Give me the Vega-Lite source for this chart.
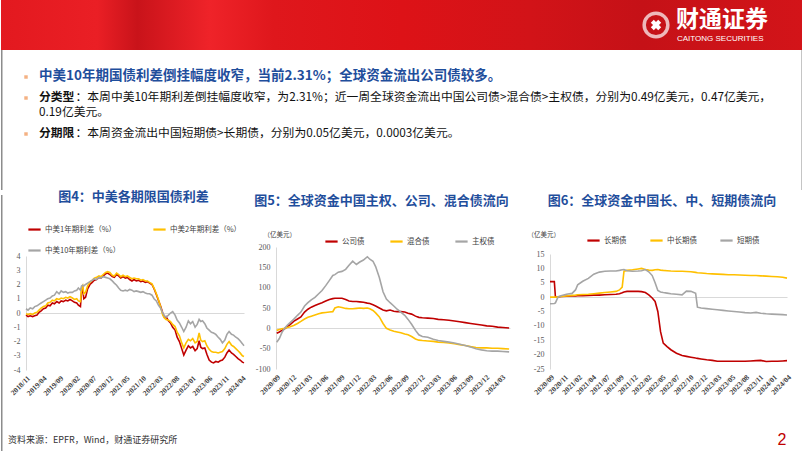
{
  "$schema": "https://vega.github.io/schema/vega-lite/v6.json",
  "background": "white",
  "padding": 0,
  "spacing": 0,
  "config": {"view": {"stroke": null}, "concat": {"spacing": 0}, "font": "Noto Sans CJK SC", "axis": {"labelOverlap": false}},
  "resolve": {"scale": {"color": "independent", "x": "independent", "y": "independent"}, "legend": {"color": "independent"}},
  "vconcat": [
    {
      "width": 802, "height": 190,
      "layer": [
        {"data": {"values": [{"k": 1}]},
         "mark": {"type": "rect", "fill": {"gradient": "linear", "x1": 0, "y1": 0, "x2": 1, "y2": 0,
           "stops": [{"offset": 0, "color": "#e3191f"}, {"offset": 0.12, "color": "#ea1f25"}, {"offset": 0.17, "color": "#c9131a"}, {"offset": 0.26, "color": "#ef2329"}, {"offset": 0.34, "color": "#df171c"}, {"offset": 0.5, "color": "#dd1217"}, {"offset": 0.66, "color": "#d21318"}, {"offset": 0.8, "color": "#c51117"}, {"offset": 1, "color": "#d31419"}]}},
         "encoding": {"x": {"value": 0}, "x2": {"value": "width"}, "y": {"value": 0}, "y2": {"value": 50}}},
        {"data": {"values": [{"k": 1}]}, "mark": {"type": "rule", "color": "#8c8c8c", "strokeWidth": 1.5},
         "encoding": {"x": {"value": 0.75}, "y": {"value": 50}, "y2": {"value": "height"}}},
        {"data": {"values": [{"k": 1}]}, "mark": {"type": "rule", "color": "#8c8c8c", "strokeWidth": 1.5},
         "encoding": {"x": {"value": 801.25}, "y": {"value": 50}, "y2": {"value": "height"}}},
        {"data": {"values": [{"k": 1}]}, "mark": {"type": "point", "shape": "circle", "filled": false, "stroke": "white", "strokeWidth": 3.5, "size": 560},
         "encoding": {"x": {"value": 655}, "y": {"value": 25}}},
        {"data": {"values": [{"k": 1}]}, "mark": {"type": "point", "shape": "cross", "filled": true, "fill": "white", "angle": 45, "size": 110, "opacity": 1},
         "encoding": {"x": {"value": 655}, "y": {"value": 25}}},
        {"data": {"values": [{"t": "财通证券"}]}, "mark": {"type": "text", "align": "left", "baseline": "middle", "font": "Noto Sans CJK SC", "fontSize": 23, "fontWeight": "bold", "color": "white"},
         "encoding": {"text": {"field": "t"}, "x": {"value": 675}, "y": {"value": 20}}},
        {"data": {"values": [{"t": "CAITONG SECURITIES"}]}, "mark": {"type": "text", "align": "left", "baseline": "middle", "font": "Liberation Sans", "fontSize": 8, "color": "white"},
         "encoding": {"text": {"field": "t"}, "x": {"value": 676}, "y": {"value": 38.5}}},
        {"data": {"values": [{"k": 1}]}, "mark": {"type": "point", "shape": "square", "filled": true, "color": "#f4b183", "size": 12, "opacity": 1},
         "encoding": {"x": {"value": 25}, "y": {"value": 77}}},
        {"data": {"values": [{"k": 1}]}, "mark": {"type": "point", "shape": "square", "filled": true, "color": "#f4b183", "size": 12, "opacity": 1},
         "encoding": {"x": {"value": 25}, "y": {"value": 98}}},
        {"data": {"values": [{"k": 1}]}, "mark": {"type": "point", "shape": "square", "filled": true, "color": "#f4b183", "size": 12, "opacity": 1},
         "encoding": {"x": {"value": 25}, "y": {"value": 134}}},
        {"data": {"values": [{"t": "中美10年期国债利差倒挂幅度收窄，当前2.31%；全球资金流出公司债较多。"}]}, "mark": {"type": "text", "align": "left", "baseline": "middle", "font": "Noto Sans CJK SC", "fontSize": 13.5, "fontWeight": "bold", "color": "#1f4e9c"},
         "encoding": {"text": {"field": "t"}, "x": {"value": 38}, "y": {"value": 76}}},
        {"data": {"values": [{"t": "分类型"}]}, "mark": {"type": "text", "align": "left", "baseline": "middle", "font": "Noto Sans CJK SC", "fontSize": 11.8, "fontWeight": "bold", "color": "#111111"},
         "encoding": {"text": {"field": "t"}, "x": {"value": 38}, "y": {"value": 97}}},
        {"data": {"values": [{"t": "：本周中美10年期利差倒挂幅度收窄，为2.31%；近一周全球资金流出中国公司债>混合债>主权债，分别为0.49亿美元，0.47亿美元，"}]}, "mark": {"type": "text", "align": "left", "baseline": "middle", "font": "Noto Sans CJK SC", "fontSize": 11.8, "color": "#111111"},
         "encoding": {"text": {"field": "t"}, "x": {"value": 74.5}, "y": {"value": 97}}},
        {"data": {"values": [{"t": "0.19亿美元。"}]}, "mark": {"type": "text", "align": "left", "baseline": "middle", "font": "Noto Sans CJK SC", "fontSize": 11.8, "color": "#111111"},
         "encoding": {"text": {"field": "t"}, "x": {"value": 38}, "y": {"value": 112}}},
        {"data": {"values": [{"t": "分期限"}]}, "mark": {"type": "text", "align": "left", "baseline": "middle", "font": "Noto Sans CJK SC", "fontSize": 11.8, "fontWeight": "bold", "color": "#111111"},
         "encoding": {"text": {"field": "t"}, "x": {"value": 38}, "y": {"value": 133}}},
        {"data": {"values": [{"t": "：本周资金流出中国短期债>长期债，分别为0.05亿美元，0.0003亿美元。"}]}, "mark": {"type": "text", "align": "left", "baseline": "middle", "font": "Noto Sans CJK SC", "fontSize": 11.8, "color": "#111111"},
         "encoding": {"text": {"field": "t"}, "x": {"value": 74.5}, "y": {"value": 133}}}
      ]
    },
    {
      "spacing": 0,
      "resolve": {"scale": {"color": "independent", "x": "independent", "y": "independent"}, "legend": {"color": "independent"}},
      "hconcat": [
        {"width": 7, "height": 10, "data": {"values": [{"k": 1}]}, "mark": {"type": "rule", "color": "#8c8c8c", "strokeWidth": 1.5},
         "encoding": {"x": {"value": 0.75}, "y": {"value": -52}, "y2": {"value": 206}}},
        {
          "width": 218, "height": 123,
          "title": {"text": "图4：中美各期限国债利差", "font": "Noto Sans CJK SC", "fontSize": 13, "fontWeight": "bold", "color": "#1f4e9c", "anchor": "middle", "frame": "group", "dx": -1.5, "offset": 18},
          "layer": [
            {"data": {"values": [
              {"d": "2018-11-01", "a": -0.15, "b": -0.05, "c": 0.30},
              {"d": "2018-11-20", "a": -0.25, "b": -0.10, "c": 0.20},
              {"d": "2018-12-10", "a": -0.20, "b": -0.05, "c": 0.35},
              {"d": "2019-01-01", "a": -0.25, "b": -0.10, "c": 0.30},
              {"d": "2019-01-20", "a": -0.20, "b": 0.00, "c": 0.45},
              {"d": "2019-02-10", "a": -0.15, "b": 0.05, "c": 0.50},
              {"d": "2019-03-01", "a": 0.05, "b": 0.20, "c": 0.60},
              {"d": "2019-03-20", "a": 0.15, "b": 0.35, "c": 0.70},
              {"d": "2019-04-10", "a": 0.30, "b": 0.45, "c": 0.80},
              {"d": "2019-05-01", "a": 0.35, "b": 0.50, "c": 0.90},
              {"d": "2019-05-20", "a": 0.55, "b": 0.70, "c": 1.00},
              {"d": "2019-06-10", "a": 0.50, "b": 0.75, "c": 1.05},
              {"d": "2019-07-01", "a": 0.70, "b": 0.90, "c": 1.20},
              {"d": "2019-07-20", "a": 0.65, "b": 0.85, "c": 1.25},
              {"d": "2019-08-10", "a": 0.80, "b": 1.00, "c": 1.50},
              {"d": "2019-09-01", "a": 0.70, "b": 0.95, "c": 1.35},
              {"d": "2019-09-20", "a": 0.85, "b": 1.05, "c": 1.55},
              {"d": "2019-10-10", "a": 0.80, "b": 1.00, "c": 1.45},
              {"d": "2019-11-01", "a": 0.90, "b": 1.10, "c": 1.50},
              {"d": "2019-11-20", "a": 0.85, "b": 1.05, "c": 1.40},
              {"d": "2019-12-10", "a": 0.95, "b": 1.15, "c": 1.45},
              {"d": "2020-01-01", "a": 0.85, "b": 1.05, "c": 1.45},
              {"d": "2020-01-20", "a": 0.75, "b": 0.95, "c": 1.55},
              {"d": "2020-02-10", "a": 0.70, "b": 1.00, "c": 1.60},
              {"d": "2020-02-25", "a": 0.55, "b": 0.85, "c": 1.75},
              {"d": "2020-03-15", "a": 0.45, "b": 0.80, "c": 1.60},
              {"d": "2020-03-25", "a": 1.50, "b": 1.70, "c": 1.90},
              {"d": "2020-04-05", "a": 1.70, "b": 1.90, "c": 1.95},
              {"d": "2020-04-15", "a": 1.00, "b": 1.35, "c": 1.90},
              {"d": "2020-05-01", "a": 1.10, "b": 1.45, "c": 2.00},
              {"d": "2020-05-20", "a": 1.70, "b": 1.90, "c": 2.10},
              {"d": "2020-06-10", "a": 2.00, "b": 2.15, "c": 2.20},
              {"d": "2020-07-01", "a": 2.15, "b": 2.30, "c": 2.30},
              {"d": "2020-07-20", "a": 2.30, "b": 2.45, "c": 2.40},
              {"d": "2020-08-10", "a": 2.35, "b": 2.50, "c": 2.35},
              {"d": "2020-09-01", "a": 2.50, "b": 2.60, "c": 2.50},
              {"d": "2020-09-20", "a": 2.45, "b": 2.55, "c": 2.45},
              {"d": "2020-10-10", "a": 2.60, "b": 2.70, "c": 2.55},
              {"d": "2020-11-01", "a": 2.75, "b": 2.85, "c": 2.50},
              {"d": "2020-11-20", "a": 2.80, "b": 2.90, "c": 2.45},
              {"d": "2020-12-10", "a": 2.70, "b": 2.85, "c": 2.40},
              {"d": "2021-01-01", "a": 2.55, "b": 2.65, "c": 2.25},
              {"d": "2021-01-20", "a": 2.50, "b": 2.60, "c": 2.10},
              {"d": "2021-02-10", "a": 2.70, "b": 2.80, "c": 1.95},
              {"d": "2021-03-01", "a": 2.60, "b": 2.70, "c": 1.75},
              {"d": "2021-03-20", "a": 2.45, "b": 2.55, "c": 1.60},
              {"d": "2021-04-10", "a": 2.55, "b": 2.65, "c": 1.55},
              {"d": "2021-05-01", "a": 2.45, "b": 2.55, "c": 1.60},
              {"d": "2021-05-20", "a": 2.50, "b": 2.60, "c": 1.55},
              {"d": "2021-06-10", "a": 2.35, "b": 2.50, "c": 1.65},
              {"d": "2021-07-01", "a": 2.25, "b": 2.40, "c": 1.60},
              {"d": "2021-07-20", "a": 2.35, "b": 2.45, "c": 1.50},
              {"d": "2021-08-10", "a": 2.25, "b": 2.40, "c": 1.55},
              {"d": "2021-09-01", "a": 2.30, "b": 2.40, "c": 1.50},
              {"d": "2021-09-20", "a": 2.20, "b": 2.30, "c": 1.45},
              {"d": "2021-10-10", "a": 2.25, "b": 2.35, "c": 1.50},
              {"d": "2021-11-01", "a": 2.15, "b": 2.25, "c": 1.40},
              {"d": "2021-11-20", "a": 2.20, "b": 2.25, "c": 1.35},
              {"d": "2021-12-10", "a": 2.10, "b": 2.15, "c": 1.35},
              {"d": "2022-01-01", "a": 2.00, "b": 2.05, "c": 1.25},
              {"d": "2022-01-20", "a": 1.70, "b": 1.75, "c": 1.00},
              {"d": "2022-02-10", "a": 1.30, "b": 1.35, "c": 0.85},
              {"d": "2022-03-01", "a": 0.90, "b": 0.95, "c": 0.55},
              {"d": "2022-03-20", "a": 0.50, "b": 0.45, "c": 0.35},
              {"d": "2022-04-10", "a": 0.00, "b": -0.15, "c": 0.00},
              {"d": "2022-04-25", "a": -0.30, "b": -0.35, "c": -0.20},
              {"d": "2022-05-10", "a": -0.25, "b": -0.45, "c": -0.30},
              {"d": "2022-06-01", "a": -0.55, "b": -0.50, "c": -0.15},
              {"d": "2022-06-20", "a": -0.70, "b": -0.60, "c": 0.00},
              {"d": "2022-07-10", "a": -1.00, "b": -0.80, "c": 0.10},
              {"d": "2022-08-01", "a": -1.20, "b": -0.95, "c": -0.15},
              {"d": "2022-08-20", "a": -1.70, "b": -1.35, "c": -0.50},
              {"d": "2022-09-10", "a": -2.00, "b": -1.60, "c": -0.70},
              {"d": "2022-10-01", "a": -2.50, "b": -2.10, "c": -1.00},
              {"d": "2022-10-20", "a": -2.95, "b": -2.45, "c": -1.30},
              {"d": "2022-11-10", "a": -2.60, "b": -2.10, "c": -1.00},
              {"d": "2022-12-01", "a": -2.30, "b": -1.85, "c": -0.55},
              {"d": "2022-12-20", "a": -2.45, "b": -1.95, "c": -0.75},
              {"d": "2023-01-10", "a": -2.35, "b": -1.80, "c": -0.60},
              {"d": "2023-02-01", "a": -2.65, "b": -2.10, "c": -1.00},
              {"d": "2023-02-20", "a": -2.50, "b": -2.00, "c": -0.80},
              {"d": "2023-03-10", "a": -1.95, "b": -1.40, "c": -0.45},
              {"d": "2023-03-25", "a": -2.40, "b": -1.90, "c": -0.60},
              {"d": "2023-04-10", "a": -2.50, "b": -2.00, "c": -0.55},
              {"d": "2023-05-01", "a": -2.45, "b": -1.95, "c": -0.75},
              {"d": "2023-05-20", "a": -2.90, "b": -2.30, "c": -1.05},
              {"d": "2023-06-10", "a": -3.30, "b": -2.55, "c": -1.20},
              {"d": "2023-07-01", "a": -3.45, "b": -2.70, "c": -1.35},
              {"d": "2023-07-20", "a": -3.50, "b": -2.75, "c": -1.40},
              {"d": "2023-08-10", "a": -3.40, "b": -2.75, "c": -1.50},
              {"d": "2023-09-01", "a": -3.45, "b": -2.80, "c": -1.70},
              {"d": "2023-09-20", "a": -3.35, "b": -2.75, "c": -1.85},
              {"d": "2023-10-10", "a": -3.30, "b": -2.70, "c": -2.10},
              {"d": "2023-11-01", "a": -3.10, "b": -2.50, "c": -1.90},
              {"d": "2023-11-20", "a": -2.80, "b": -2.20, "c": -1.50},
              {"d": "2023-12-10", "a": -2.60, "b": -2.00, "c": -1.30},
              {"d": "2024-01-01", "a": -2.80, "b": -2.25, "c": -1.50},
              {"d": "2024-01-20", "a": -2.90, "b": -2.35, "c": -1.55},
              {"d": "2024-02-10", "a": -3.05, "b": -2.50, "c": -1.70},
              {"d": "2024-03-01", "a": -3.20, "b": -2.65, "c": -1.80},
              {"d": "2024-03-20", "a": -3.30, "b": -2.80, "c": -1.95},
              {"d": "2024-04-10", "a": -3.45, "b": -3.00, "c": -2.15},
              {"d": "2024-04-25", "a": -3.50, "b": -3.05, "c": -2.30}
            ]},
             "transform": [{"fold": ["a", "b", "c"], "as": ["k", "v"]}],
             "mark": {"type": "line", "strokeWidth": 1.6},
             "encoding": {
               "x": {"field": "d", "type": "temporal",
                 "scale": {"domain": [{"year": 2018, "month": 11, "date": 1}, {"year": 2024, "month": 4, "date": 25}]},
                 "axis": {"title": null, "format": "%Y/%m", "labelAngle": -45, "domain": false, "ticks": false, "grid": false, "labelFont": "Liberation Serif", "labelFontSize": 7.5, "labelFontWeight": "bold", "labelColor": "#404040", "labelPadding": 4, "labelOverlap": false, "labelFlush": false,
                   "values": [{"year": 2018, "month": 11, "date": 1}, {"year": 2019, "month": 4, "date": 1}, {"year": 2019, "month": 9, "date": 1}, {"year": 2020, "month": 2, "date": 1}, {"year": 2020, "month": 7, "date": 1}, {"year": 2020, "month": 12, "date": 1}, {"year": 2021, "month": 5, "date": 1}, {"year": 2021, "month": 10, "date": 1}, {"year": 2022, "month": 3, "date": 1}, {"year": 2022, "month": 8, "date": 1}, {"year": 2023, "month": 1, "date": 1}, {"year": 2023, "month": 6, "date": 1}, {"year": 2023, "month": 11, "date": 1}, {"year": 2024, "month": 4, "date": 1}]}},
               "y": {"field": "v", "type": "quantitative", "scale": {"domain": [-4, 4], "nice": false, "range": [123, 9]},
                 "axis": {"title": null, "values": [-4, -3, -2, -1, 0, 1, 2, 3, 4], "domain": true, "domainColor": "#d9d9d9", "ticks": false, "tickSize": 0,
                   "grid": true, "gridColor": "#d9d9d9", "gridWidth": 1, "gridOpacity": {"condition": {"test": "datum.value === 0", "value": 1}, "value": 0},
                   "labelFont": "Liberation Serif", "labelFontSize": 8, "labelColor": "#595959", "labelPadding": 6, "labelOverlap": false, "labelBound": false, "labelExpr": "'' + datum.value"}},
               "color": {"field": "k", "type": "nominal", "scale": {"domain": ["a", "b", "c"], "range": ["#c00000", "#ffc000", "#a5a5a5"]},
                 "legend": {"title": null, "orient": "none", "legendX": 1, "legendY": -25, "direction": "horizontal", "columns": 2, "columnPadding": 27, "rowPadding": 9, "symbolType": "stroke", "symbolSize": 150, "symbolStrokeWidth": 2.2, "labelFont": "Noto Sans CJK SC", "labelFontSize": 7.5, "labelColor": "#404040", "labelOffset": 3, "padding": 0,
                   "labelExpr": "datum.label == 'a' ? '中美1年期利差（%）' : datum.label == 'b' ? '中美2年期利差（%）' : '中美10年期利差（%）'"}}
             }},
            {"data": {"values": [{"t": "资料来源：EPFR，Wind，财通证券研究所"}]}, "mark": {"type": "text", "align": "left", "baseline": "middle", "font": "Noto Sans CJK SC", "fontSize": 9, "color": "#333333"},
             "encoding": {"text": {"field": "t"}, "x": {"value": -18}, "y": {"value": 193}}}
          ]
        },
        {"width": 2, "height": 10, "data": {"values": [{"k": 1}]}, "mark": {"type": "point", "opacity": 0}, "encoding": {}},
        {
          "width": 234, "height": 122,
          "title": {"text": "图5：全球资金中国主权、公司、混合债流向", "font": "Noto Sans CJK SC", "fontSize": 13, "fontWeight": "bold", "color": "#1f4e9c", "anchor": "middle", "frame": "group", "dx": -11.5, "offset": 23},
          "data": {"values": [
              {"d": "2020-09-05", "公司债": -12, "混合债": -5, "主权债": -34},
              {"d": "2020-09-20", "公司债": -9, "混合债": -3, "主权债": -25},
              {"d": "2020-10-05", "公司债": -5, "混合债": -1, "主权债": -10},
              {"d": "2020-10-20", "公司债": -1, "混合债": 0, "主权债": 0},
              {"d": "2020-11-05", "公司债": 4, "混合债": 2, "主权债": 8},
              {"d": "2020-11-20", "公司债": 9, "混合债": 4, "主权债": 14},
              {"d": "2020-12-10", "公司债": 17, "混合债": 7, "主权债": 22},
              {"d": "2021-01-01", "公司债": 23, "混合债": 12, "主权债": 32},
              {"d": "2021-01-20", "公司债": 28, "混合债": 17, "主权债": 40},
              {"d": "2021-02-10", "公司债": 40, "混合债": 23, "主权债": 55},
              {"d": "2021-03-01", "公司债": 47, "混合债": 27, "主权债": 63},
              {"d": "2021-03-20", "公司债": 52, "混合债": 30, "主权债": 70},
              {"d": "2021-04-10", "公司债": 56, "混合债": 33, "主权债": 76},
              {"d": "2021-05-01", "公司债": 60, "混合债": 36, "主权债": 85},
              {"d": "2021-05-20", "公司债": 63, "混合债": 38, "主权债": 93},
              {"d": "2021-06-10", "公司债": 67, "混合债": 39, "主权债": 105},
              {"d": "2021-07-01", "公司债": 71, "混合债": 40, "主权债": 118},
              {"d": "2021-07-20", "公司债": 73, "混合债": 41, "主权债": 130},
              {"d": "2021-08-01", "公司债": 74, "混合债": 50, "主权债": 132},
              {"d": "2021-08-20", "公司债": 74, "混合债": 53, "主权债": 138},
              {"d": "2021-09-10", "公司债": 74, "混合债": 51, "主权债": 140},
              {"d": "2021-10-01", "公司债": 71, "混合债": 49, "主权债": 145},
              {"d": "2021-10-20", "公司债": 67, "混合债": 48, "主权债": 155},
              {"d": "2021-11-10", "公司债": 66, "混合债": 48, "主权债": 165},
              {"d": "2021-12-01", "公司债": 66, "混合债": 49, "主权债": 157},
              {"d": "2021-12-20", "公司债": 65, "混合债": 50, "主权债": 163},
              {"d": "2022-01-10", "公司债": 64, "混合债": 49, "主权债": 168},
              {"d": "2022-02-01", "公司债": 62, "混合债": 50, "主权债": 176},
              {"d": "2022-02-15", "公司债": 61, "混合债": 48, "主权债": 170},
              {"d": "2022-03-05", "公司债": 58, "混合债": 44, "主权债": 165},
              {"d": "2022-03-20", "公司债": 55, "混合债": 38, "主权债": 152},
              {"d": "2022-04-10", "公司债": 50, "混合债": 28, "主权债": 125},
              {"d": "2022-05-01", "公司债": 45, "混合债": 12, "主权债": 90},
              {"d": "2022-05-20", "公司债": 43, "混合债": 0, "主权债": 72},
              {"d": "2022-06-10", "公司债": 45, "混合债": -4, "主权债": 63},
              {"d": "2022-07-01", "公司债": 42, "混合债": -7, "主权债": 55},
              {"d": "2022-07-20", "公司债": 41, "混合债": -9, "主权债": 47},
              {"d": "2022-08-10", "公司债": 41, "混合债": -11, "主权债": 40},
              {"d": "2022-09-01", "公司债": 40, "混合债": -14, "主权债": 32},
              {"d": "2022-09-20", "公司债": 37, "混合债": -16, "主权债": 22},
              {"d": "2022-10-10", "公司债": 35, "混合债": -20, "主权债": 10},
              {"d": "2022-11-01", "公司债": 30, "混合债": -26, "主权债": -5},
              {"d": "2022-11-20", "公司债": 27, "混合债": -29, "主权债": -16},
              {"d": "2022-12-10", "公司债": 26, "混合债": -30, "主权债": -20},
              {"d": "2023-01-10", "公司债": 25, "混合债": -31, "主权债": -22},
              {"d": "2023-02-10", "公司债": 24, "混合债": -32, "主权债": -27},
              {"d": "2023-03-10", "公司债": 22, "混合债": -34, "主权债": -30},
              {"d": "2023-04-10", "公司债": 21, "混合债": -35, "主权债": -32},
              {"d": "2023-05-10", "公司债": 20, "混合债": -36, "主权债": -34},
              {"d": "2023-06-10", "公司债": 18, "混合债": -38, "主权债": -36},
              {"d": "2023-07-10", "公司债": 16, "混合债": -40, "主权债": -39},
              {"d": "2023-08-10", "公司债": 14, "混合债": -42, "主权债": -42},
              {"d": "2023-09-10", "公司债": 12, "混合债": -45, "主权债": -46},
              {"d": "2023-10-10", "公司债": 10, "混合债": -47, "主权债": -50},
              {"d": "2023-11-10", "公司债": 8, "混合债": -48, "主权债": -53},
              {"d": "2023-12-10", "公司债": 6, "混合债": -48, "主权债": -55},
              {"d": "2024-01-10", "公司债": 5, "混合债": -49, "主权债": -56},
              {"d": "2024-02-10", "公司债": 3, "混合债": -49, "主权债": -56},
              {"d": "2024-03-10", "公司债": 2, "混合债": -50, "主权债": -57},
              {"d": "2024-04-15", "公司债": 1, "混合债": -51, "主权债": -58}
          ]},
          "transform": [{"fold": ["公司债", "混合债", "主权债"], "as": ["k", "v"]}],
          "mark": {"type": "line", "strokeWidth": 1.6},
          "encoding": {
            "x": {"field": "d", "type": "temporal",
              "scale": {"domain": [{"year": 2020, "month": 9, "date": 1}, {"year": 2024, "month": 4, "date": 20}]},
              "axis": {"title": null, "format": "%Y/%m", "labelAngle": -45, "domain": false, "ticks": false, "grid": false, "labelFont": "Liberation Serif", "labelFontSize": 7.5, "labelFontWeight": "bold", "labelColor": "#404040", "labelPadding": 4, "labelOverlap": false, "labelFlush": false,
                "values": [{"year": 2020, "month": 9, "date": 1}, {"year": 2020, "month": 12, "date": 1}, {"year": 2021, "month": 3, "date": 1}, {"year": 2021, "month": 6, "date": 1}, {"year": 2021, "month": 9, "date": 1}, {"year": 2021, "month": 12, "date": 1}, {"year": 2022, "month": 3, "date": 1}, {"year": 2022, "month": 6, "date": 1}, {"year": 2022, "month": 9, "date": 1}, {"year": 2022, "month": 12, "date": 1}, {"year": 2023, "month": 3, "date": 1}, {"year": 2023, "month": 6, "date": 1}, {"year": 2023, "month": 9, "date": 1}, {"year": 2023, "month": 12, "date": 1}, {"year": 2024, "month": 3, "date": 1}]}},
            "y": {"field": "v", "type": "quantitative", "scale": {"domain": [-100, 200], "nice": false},
              "axis": {"title": "（亿美元）", "titleAngle": 0, "titleX": -13, "titleY": -13, "titleAlign": "left", "titleBaseline": "middle", "titleFont": "Noto Sans CJK SC", "titleFontSize": 6.5, "titleFontWeight": "normal", "titleColor": "#404040",
                "values": [-100, -50, 0, 50, 100, 150, 200], "domain": true, "domainColor": "#d9d9d9", "ticks": false, "tickSize": 0,
                "grid": true, "gridColor": "#d9d9d9", "gridWidth": 1, "gridOpacity": {"condition": {"test": "datum.value === 0", "value": 1}, "value": 0},
                "labelFont": "Liberation Serif", "labelFontSize": 8, "labelColor": "#595959", "labelPadding": 6, "labelOverlap": false, "labelBound": false, "labelExpr": "'' + datum.value"}},
            "color": {"field": "k", "type": "nominal", "scale": {"domain": ["公司债", "混合债", "主权债"], "range": ["#c00000", "#ffc000", "#a5a5a5"]},
              "legend": {"title": null, "orient": "none", "legendX": 48, "legendY": -13, "direction": "horizontal", "columnPadding": 20, "symbolType": "stroke", "symbolSize": 150, "symbolStrokeWidth": 2.2, "labelFont": "Noto Sans CJK SC", "labelFontSize": 7.5, "labelColor": "#404040", "labelOffset": 3, "padding": 0}}
          }
        },
        {"width": 14, "height": 10, "data": {"values": [{"k": 1}]}, "mark": {"type": "point", "opacity": 0}, "encoding": {}},
        {
          "width": 237, "height": 122,
          "title": {"text": "图6：全球资金中国长、中、短期债流向", "font": "Noto Sans CJK SC", "fontSize": 13, "fontWeight": "bold", "color": "#1f4e9c", "anchor": "middle", "frame": "group", "dx": -6.5, "offset": 23},
          "layer": [
            {"data": {"values": [
              {"d": "2020-09-01", "长期债": 5.4, "中长期债": 0.0, "短期债": -2.3},
              {"d": "2020-09-25", "长期债": 5.4, "中长期债": 0.0, "短期债": -2.2},
              {"d": "2020-10-01", "长期债": 0.0, "中长期债": 0.0, "短期债": -2.0},
              {"d": "2020-10-15", "长期债": 0.1, "中长期债": 0.1, "短期债": 0.0},
              {"d": "2020-11-01", "长期债": 0.2, "中长期债": 0.2, "短期债": 0.5},
              {"d": "2020-12-01", "长期债": 0.3, "中长期债": 0.4, "短期债": 1.0},
              {"d": "2021-01-01", "长期债": 0.4, "中长期债": 0.6, "短期债": 1.3},
              {"d": "2021-01-20", "长期债": 0.4, "中长期债": 0.7, "短期债": 2.5},
              {"d": "2021-02-01", "长期债": 0.5, "中长期债": 0.8, "短期债": 4.3},
              {"d": "2021-03-01", "长期债": 0.5, "中长期债": 0.9, "短期债": 5.5},
              {"d": "2021-04-01", "长期债": 0.6, "中长期债": 1.0, "短期债": 6.5},
              {"d": "2021-05-01", "长期债": 0.7, "中长期债": 1.2, "短期债": 8.0},
              {"d": "2021-06-01", "长期债": 0.7, "中长期债": 1.4, "短期债": 8.7},
              {"d": "2021-07-01", "长期债": 0.8, "中长期债": 1.6, "短期债": 9.0},
              {"d": "2021-08-01", "长期债": 0.9, "中长期债": 1.8, "短期债": 9.1},
              {"d": "2021-09-01", "长期债": 1.0, "中长期债": 2.0, "短期债": 9.1},
              {"d": "2021-09-20", "长期债": 1.2, "中长期债": 2.5, "短期债": 9.3},
              {"d": "2021-10-05", "长期债": 1.5, "中长期债": 3.5, "短期债": 9.5},
              {"d": "2021-10-15", "长期债": 1.8, "中长期债": 9.0, "短期债": 9.6},
              {"d": "2021-11-01", "长期债": 2.0, "中长期债": 9.3, "短期债": 9.2},
              {"d": "2021-12-01", "长期债": 2.0, "中长期债": 9.5, "短期债": 9.0},
              {"d": "2022-01-01", "长期债": 2.0, "中长期债": 9.8, "短期债": 9.1},
              {"d": "2022-01-20", "长期债": 1.9, "中长期债": 10.0, "短期债": 9.2},
              {"d": "2022-02-10", "长期债": 1.6, "中长期债": 9.6, "短期债": 9.6},
              {"d": "2022-03-01", "长期债": 0.8, "中长期债": 9.4, "短期债": 8.8},
              {"d": "2022-03-20", "长期债": -0.3, "中长期债": 9.3, "短期债": 7.5},
              {"d": "2022-04-05", "长期债": -1.5, "中长期债": 9.5, "短期债": 5.0},
              {"d": "2022-04-20", "长期债": -5.0, "中长期债": 9.6, "短期债": 2.3},
              {"d": "2022-05-05", "长期债": -12.0, "中长期债": 9.4, "短期债": 1.8},
              {"d": "2022-05-20", "长期债": -16.0, "中长期债": 9.3, "短期债": 1.6},
              {"d": "2022-06-10", "长期债": -17.2, "中长期债": 9.2, "短期债": 1.4},
              {"d": "2022-07-01", "长期债": -18.3, "中长期债": 9.1, "短期债": 1.2},
              {"d": "2022-08-01", "长期债": -19.5, "中长期债": 9.0, "短期债": 1.0},
              {"d": "2022-09-01", "长期债": -20.3, "中长期债": 9.0, "短期债": 0.8},
              {"d": "2022-09-25", "长期债": -20.6, "中长期债": 8.9, "短期债": 2.1},
              {"d": "2022-10-20", "长期债": -20.9, "中长期债": 8.8, "短期债": 2.0},
              {"d": "2022-11-15", "长期债": -21.2, "中长期债": 8.6, "短期债": 1.3},
              {"d": "2022-11-25", "长期债": -21.3, "中长期债": 8.5, "短期债": -3.5},
              {"d": "2022-12-15", "长期债": -21.5, "中长期债": 8.4, "短期债": -3.8},
              {"d": "2023-01-15", "长期债": -21.8, "中长期债": 8.2, "短期债": -4.0},
              {"d": "2023-02-15", "长期债": -22.0, "中长期债": 8.1, "短期债": -4.2},
              {"d": "2023-03-15", "长期债": -22.3, "中长期债": 8.0, "短期债": -4.4},
              {"d": "2023-04-15", "长期债": -22.3, "中长期债": 7.9, "短期债": -4.6},
              {"d": "2023-05-15", "长期债": -22.3, "中长期债": 7.8, "短期债": -4.8},
              {"d": "2023-06-15", "长期债": -22.3, "中长期债": 7.8, "短期债": -5.0},
              {"d": "2023-07-15", "长期债": -22.3, "中长期债": 7.7, "短期债": -5.2},
              {"d": "2023-08-15", "长期债": -22.3, "中长期债": 7.6, "短期债": -5.4},
              {"d": "2023-09-15", "长期债": -22.2, "中长期债": 7.5, "短期债": -5.5},
              {"d": "2023-10-15", "长期债": -22.1, "中长期债": 7.5, "短期债": -5.3},
              {"d": "2023-11-10", "长期债": -22.0, "中长期债": 7.4, "短期债": -5.6},
              {"d": "2023-12-10", "长期债": -22.4, "中长期债": 7.3, "短期债": -5.8},
              {"d": "2024-01-10", "长期债": -22.3, "中长期债": 7.2, "短期债": -5.9},
              {"d": "2024-02-10", "长期债": -22.3, "中长期债": 7.1, "短期债": -6.0},
              {"d": "2024-03-10", "长期债": -22.2, "中长期债": 6.9, "短期债": -6.1},
              {"d": "2024-04-03", "长期债": -22.1, "中长期债": 6.6, "短期债": -6.2}
            ]},
             "transform": [{"fold": ["长期债", "中长期债", "短期债"], "as": ["k", "v"]}],
             "mark": {"type": "line", "strokeWidth": 1.6},
             "encoding": {
               "x": {"field": "d", "type": "temporal",
                 "scale": {"domain": [{"year": 2020, "month": 9, "date": 1}, {"year": 2024, "month": 4, "date": 3}]},
                 "axis": {"title": null, "format": "%Y/%m", "labelAngle": -45, "domain": false, "ticks": false, "grid": false, "labelFont": "Liberation Serif", "labelFontSize": 7.5, "labelFontWeight": "bold", "labelColor": "#404040", "labelPadding": 4, "labelOverlap": false, "labelFlush": false,
                   "values": [{"year": 2020, "month": 9, "date": 1}, {"year": 2020, "month": 11, "date": 17}, {"year": 2021, "month": 2, "date": 2}, {"year": 2021, "month": 4, "date": 20}, {"year": 2021, "month": 7, "date": 6}, {"year": 2021, "month": 9, "date": 21}, {"year": 2021, "month": 12, "date": 7}, {"year": 2022, "month": 2, "date": 22}, {"year": 2022, "month": 5, "date": 10}, {"year": 2022, "month": 7, "date": 26}, {"year": 2022, "month": 10, "date": 11}, {"year": 2022, "month": 12, "date": 27}, {"year": 2023, "month": 3, "date": 14}, {"year": 2023, "month": 5, "date": 30}, {"year": 2023, "month": 8, "date": 15}, {"year": 2023, "month": 11, "date": 1}, {"year": 2024, "month": 1, "date": 16}, {"year": 2024, "month": 4, "date": 2}]}},
               "y": {"field": "v", "type": "quantitative", "scale": {"domain": [-25, 15], "nice": false, "range": [122, 7]},
                 "axis": {"title": "（亿美元）", "titleAngle": 0, "titleX": -23, "titleY": -13, "titleAlign": "left", "titleBaseline": "middle", "titleFont": "Noto Sans CJK SC", "titleFontSize": 6.5, "titleFontWeight": "normal", "titleColor": "#404040",
                   "values": [-25, -20, -15, -10, -5, 0, 5, 10, 15], "domain": true, "domainColor": "#d9d9d9", "ticks": false, "tickSize": 0,
                   "grid": true, "gridColor": "#d9d9d9", "gridWidth": 1, "gridOpacity": {"condition": {"test": "datum.value === 0", "value": 1}, "value": 0},
                   "labelFont": "Liberation Serif", "labelFontSize": 8, "labelColor": "#595959", "labelPadding": 6, "labelOverlap": false, "labelBound": false, "labelExpr": "'' + datum.value"}},
               "color": {"field": "k", "type": "nominal", "scale": {"domain": ["长期债", "中长期债", "短期债"], "range": ["#c00000", "#ffc000", "#a5a5a5"]},
                 "legend": {"title": null, "orient": "none", "legendX": 36, "legendY": -14, "direction": "horizontal", "columnPadding": 18, "symbolType": "stroke", "symbolSize": 150, "symbolStrokeWidth": 2.2, "labelFont": "Noto Sans CJK SC", "labelFontSize": 7.5, "labelColor": "#404040", "labelOffset": 3, "padding": 0}}
             }},
            {"data": {"values": [{"t": "2"}]}, "mark": {"type": "text", "align": "center", "baseline": "middle", "font": "Liberation Sans", "fontSize": 16, "color": "#c00000"},
             "encoding": {"text": {"field": "t"}, "x": {"value": 232}, "y": {"value": 193}}}
          ]
        },
        {"width": 14, "height": 10, "data": {"values": [{"k": 1}]}, "mark": {"type": "rule", "color": "#8c8c8c", "strokeWidth": 1.5},
         "encoding": {"x": {"value": 13.25}, "y": {"value": -52}, "y2": {"value": 206}}}
      ]
    },
    {
      "width": 802, "height": 2,
      "data": {"values": [{"k": 1}]}, "mark": {"type": "rule", "color": "#8c8c8c", "strokeWidth": 1.5},
      "encoding": {"x": {"value": 0}, "x2": {"value": "width"}, "y": {"value": 0.5}}
    }
  ]
}
